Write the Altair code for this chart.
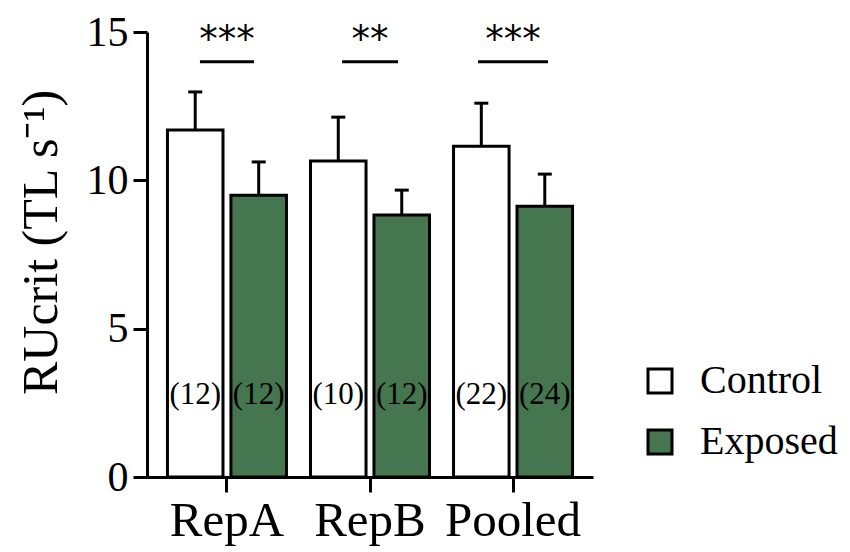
import altair as alt
import pandas as pd

groups = ["RepA", "RepB", "Pooled"]
treatments = ["Control", "Exposed"]
control_mean = [11.7, 10.65, 11.15]
control_err = [1.28, 1.48, 1.45]
exposed_mean = [9.5, 8.83, 9.13]
exposed_err = [1.12, 0.84, 1.08]
control_n = ["(12)", "(10)", "(22)"]
exposed_n = ["(12)", "(12)", "(24)"]
stars = ["***", "**", "***"]
sig_width = [54, 56, 70]

GREEN = "#46764F"
SERIF = "Liberation Serif"
YTITLE = "RUcrit (TL s⁻¹)"

rows = []
for i, g in enumerate(groups):
    rows.append(dict(group=g, treatment="Control", mean=control_mean[i],
                     upper=control_mean[i] + control_err[i], n=control_n[i]))
    rows.append(dict(group=g, treatment="Exposed", mean=exposed_mean[i],
                     upper=exposed_mean[i] + exposed_err[i], n=exposed_n[i]))
df = pd.DataFrame(rows)
sig = pd.DataFrame(dict(group=groups, stars=stars, width=sig_width))

x = alt.X("group:N", sort=groups, title=None,
          scale=alt.Scale(paddingInner=0.168, paddingOuter=0.143),
          axis=alt.Axis(labelAngle=0, tickSize=15, labelPadding=4, labelFontSize=49))
xoff = alt.XOffset("treatment:N", sort=treatments,
                   scale=alt.Scale(paddingInner=0.125, paddingOuter=0))
yscale = alt.Scale(domain=[0, 15], nice=False)

bars = alt.Chart(df).mark_bar(stroke="black", strokeWidth=3).encode(
    x=x, xOffset=xoff,
    y=alt.Y("mean:Q", scale=yscale, title=YTITLE,
            axis=alt.Axis(values=[0, 5, 10, 15], tickSize=14, labelPadding=5,
                          labelFontSize=42, titlePadding=20, titleY=210)),
    color=alt.Color("treatment:N", sort=treatments,
                    scale=alt.Scale(domain=treatments, range=["white", GREEN]),
                    legend=alt.Legend(title=None, orient="none", legendX=493, legendY=329,
                                      symbolType="square", symbolSize=576,
                                      symbolStrokeColor="black", symbolStrokeWidth=3,
                                      labelFont=SERIF, labelFontSize=40, labelColor="black",
                                      labelOffset=20, rowPadding=21)),
)

err = alt.Chart(df).mark_rule(color="black", strokeWidth=3).encode(
    x=x, xOffset=xoff,
    y=alt.Y("mean:Q", scale=yscale, title=YTITLE), y2="upper:Q")

caps = alt.Chart(df).mark_tick(color="black", opacity=1, thickness=3, size=14,
                               orient="horizontal").encode(
    x=x, xOffset=xoff, y=alt.Y("upper:Q", scale=yscale, title=YTITLE))

nlab = alt.Chart(df).mark_text(font=SERIF, fontSize=31, baseline="middle", color="black").encode(
    x=x, xOffset=xoff, y=alt.datum(2.75), text="n:N")

sigline = alt.Chart(sig).mark_tick(color="black", opacity=1, thickness=3,
                                   orient="horizontal").encode(
    x=x, y=alt.datum(14.0), size=alt.Size("width:Q", scale=None))

sigtext = alt.Chart(sig).mark_text(font="DejaVu Sans", fontSize=37, baseline="middle",
                                   color="black").encode(
    x=x, y=alt.datum(14.7), text="stars:N")

chart = alt.layer(bars, err, caps, nlab, sigline, sigtext).properties(
    width=446, height=445,
    autosize=alt.AutoSizeParams(type="none"),
    padding={"left": 139, "top": 24, "right": 249, "bottom": 70},
    background="white",
).configure_view(stroke=None).configure_axis(
    grid=False, domainColor="black", domainWidth=3, tickColor="black", tickWidth=3,
    labelFont=SERIF, labelColor="black",
    titleFont=SERIF, titleFontSize=50, titleFontWeight="normal", titleColor="black",
)

chart.save("out.html", embed_options={"renderer": "svg", "actions": False})
